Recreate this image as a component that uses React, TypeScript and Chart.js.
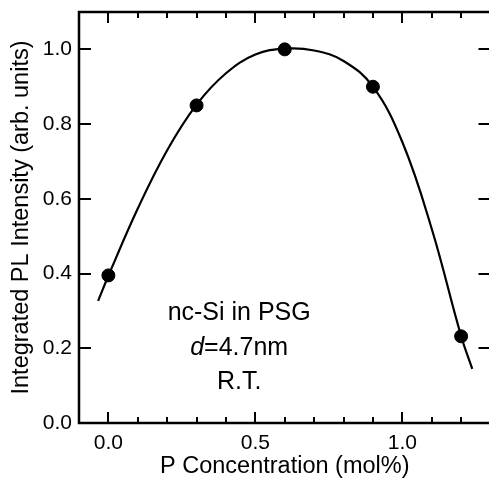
import React, { useEffect, useRef } from "react";
import { Chart, registerables } from "chart.js";

Chart.register(...registerables);

// Measured data points
const concentrations = [0.0, 0.3, 0.6, 0.9, 1.2];
const intensities = [0.395, 0.85, 1.0, 0.9, 0.232];

// Fitted curve
const curveX = [-0.035, 0.0, 0.1, 0.2, 0.3, 0.4, 0.5, 0.6, 0.7, 0.8, 0.9, 1.0, 1.1, 1.2, 1.238];
const curveY = [0.327, 0.394, 0.574, 0.73, 0.852, 0.936, 0.986, 1.002, 0.997, 0.969, 0.9, 0.752, 0.52, 0.233, 0.145];

// Axis ticks
const xTickLabels = [0.0, 0.5, 1.0];
const xMinorTicks = [0.0, 0.1, 0.2, 0.3, 0.4, 0.5, 0.6, 0.7, 0.8, 0.9, 1.0, 1.1, 1.2];
const yTickLabels = [0.0, 0.2, 0.4, 0.6, 0.8, 1.0];

const xTitle = "P Concentration (mol%)";
const yTitle = "Integrated PL Intensity (arb. units)";

// Annotation lines: segments [text, italic]
const annotationLines: [string, boolean][][] = [
  [["nc-Si in PSG", false]],
  [["d", true], ["=4.7nm", false]],
  [["R.T.", false]],
];
const annotationX = 0.445;
const annotationY = [0.295, 0.2, 0.11];

const FONT = "'Liberation Sans', Arial, Helvetica, sans-serif";

const zeroPadding = (s: any) => {
  s.paddingTop = 0;
  s.paddingBottom = 0;
  s.paddingLeft = 0;
  s.paddingRight = 0;
};

const framePlugin = {
  id: "frame",
  afterDraw(chart: any) {
    const { ctx, chartArea, scales } = chart;
    const xs = scales.x;
    const ys = scales.y;
    const { left, right, top, bottom } = chartArea;
    ctx.save();
    ctx.strokeStyle = "#000";
    ctx.lineWidth = 2.5;
    ctx.beginPath();
    ctx.moveTo(left, top);
    ctx.lineTo(right, top);
    ctx.lineTo(right, bottom);
    ctx.lineTo(left, bottom);
    ctx.closePath();
    ctx.stroke();
    ctx.lineWidth = 2;
    // x ticks (bottom & top), inward
    ctx.beginPath();
    for (const v of xMinorTicks) {
      const major = xTickLabels.some((m) => Math.abs(m - v) < 1e-6);
      const len = major ? 11 : 6;
      const px = Math.round(xs.getPixelForValue(v));
      ctx.moveTo(px, bottom);
      ctx.lineTo(px, bottom - len);
      ctx.moveTo(px, top);
      ctx.lineTo(px, top + len);
    }
    // y ticks (left & right), inward
    for (const v of yTickLabels) {
      const py = Math.round(ys.getPixelForValue(v));
      ctx.moveTo(left, py);
      ctx.lineTo(left + 12, py);
      ctx.moveTo(right, py);
      ctx.lineTo(right - 12, py);
    }
    ctx.stroke();

    // annotation text
    ctx.fillStyle = "#000";
    ctx.textBaseline = "middle";
    ctx.textAlign = "left";
    const cx = xs.getPixelForValue(annotationX);
    annotationLines.forEach((segs, i) => {
      const cy = ys.getPixelForValue(annotationY[i]);
      let total = 0;
      const widths = segs.map(([t, it]) => {
        ctx.font = `${it ? "italic " : ""}25px ${FONT}`;
        const w = ctx.measureText(t).width;
        total += w;
        return w;
      });
      let x = cx - total / 2;
      segs.forEach(([t, it], j) => {
        ctx.font = `${it ? "italic " : ""}25px ${FONT}`;
        ctx.fillText(t, x, cy);
        x += widths[j];
      });
    });
    ctx.restore();
  },
};

export default function App() {
  const ref = useRef<HTMLCanvasElement>(null);
  useEffect(() => {
    if (!ref.current) return;
    const chart = new Chart(ref.current, {
      type: "scatter",
      data: {
        datasets: [
          {
            label: "fit",
            data: curveX.map((x, i) => ({ x, y: curveY[i] })),
            showLine: true,
            borderColor: "#000",
            borderWidth: 2.2,
            pointRadius: 0,
            tension: 0.4,
            fill: false,
          },
          {
            label: "data",
            data: concentrations.map((x, i) => ({ x, y: intensities[i] })),
            showLine: false,
            backgroundColor: "#000",
            borderColor: "#000",
            pointRadius: 6.5,
            pointHoverRadius: 6.5,
          },
        ],
      },
      options: {
        responsive: false,
        animation: false,
        events: [],
        layout: { padding: { top: 12, right: 0, left: 0, bottom: 0 } },
        plugins: { legend: { display: false }, tooltip: { enabled: false } },
        scales: {
          x: {
            type: "linear",
            min: -0.1,
            max: 1.3,
            afterBuildTicks: (s: any) => {
              s.ticks = xTickLabels.map((v) => ({ value: v }));
            },
            afterFit: (s: any) => {
              s.height = 56;
              zeroPadding(s);
            },
            grid: { display: false, drawTicks: false },
            border: { display: false },
            ticks: {
              color: "#000",
              font: { family: FONT, size: 21 },
              padding: 8,
              maxRotation: 0,
              callback: (v: any) => Number(v).toFixed(1),
            },
            title: {
              display: true,
              text: xTitle,
              color: "#000",
              font: { family: FONT, size: 23.5 },
              padding: { top: 0, bottom: -2 },
            },
          },
          y: {
            type: "linear",
            min: 0,
            max: 1.1,
            afterBuildTicks: (s: any) => {
              s.ticks = yTickLabels.map((v) => ({ value: v }));
            },
            afterFit: (s: any) => {
              s.width = 79;
              zeroPadding(s);
            },
            grid: { display: false, drawTicks: false },
            border: { display: false },
            ticks: {
              color: "#000",
              font: { family: FONT, size: 21 },
              padding: 7,
              callback: (v: any) => Number(v).toFixed(1),
            },
            title: {
              display: true,
              text: yTitle,
              color: "#000",
              font: { family: FONT, size: 23.5 },
              padding: { top: 7, bottom: 0 },
            },
          },
        },
      },
      plugins: [framePlugin],
    });
    return () => chart.destroy();
  }, []);
  return (
    <div style={{ position: "fixed", left: 0, top: 0, width: 498, height: 479, background: "#fff" }}>
      <canvas ref={ref} width={498} height={479} style={{ display: "block" }} />
    </div>
  );
}
